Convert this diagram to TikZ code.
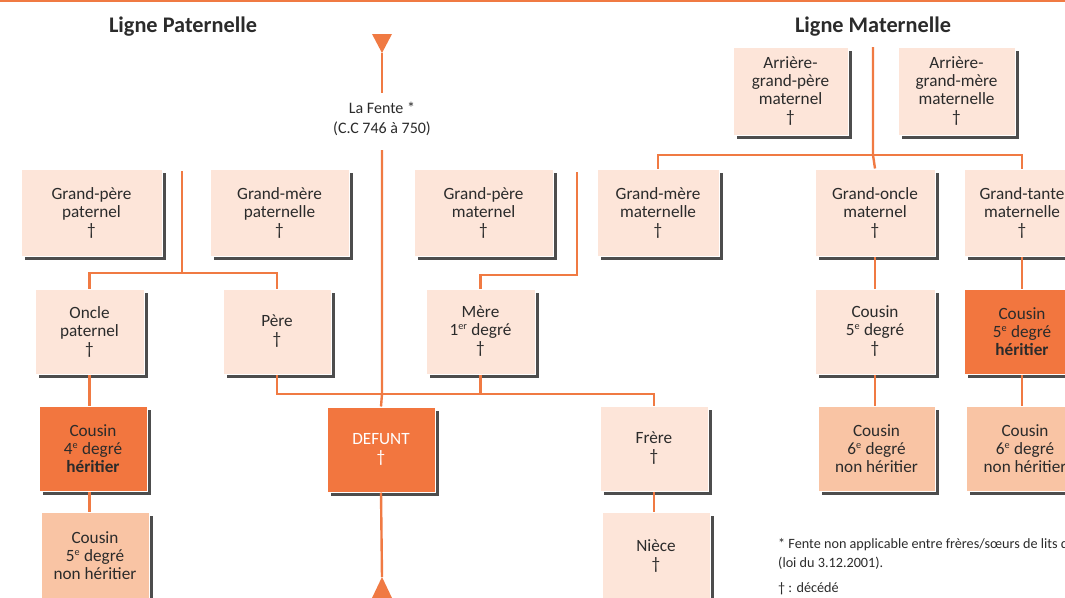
\documentclass[tikz,border=0pt]{standalone}
\usepackage{fontspec}
\setmainfont{Carlito}
\usetikzlibrary{shadows}
\definecolor{peach}{HTML}{FDE5D9}
\definecolor{darkor}{HTML}{F2763F}
\definecolor{medor}{HTML}{F9C4A4}
\definecolor{lineor}{HTML}{F07A43}
\definecolor{shadowc}{HTML}{4D4D4D}
\definecolor{txt}{HTML}{2B2B2B}
\newcommand\supx[1]{\textsuperscript{\scalebox{0.85}{#1}}}
\begin{document}
\begin{tikzpicture}[x=1pt,y=-1pt,
  conn/.style={draw=lineor, line width=2.4pt},
  pb/.style={rectangle, fill=peach, draw=white, line width=1pt, align=center, inner sep=0pt,
    text=txt, font=\fontsize{17.2}{18}\selectfont,
    drop shadow={shadow xshift=4pt, shadow yshift=-4pt, fill=shadowc, opacity=1}},
  dk/.style={pb, fill=darkor},
  md/.style={pb, fill=medor},
  title/.style={font=\fontsize{22.3}{24}\selectfont\bfseries, text=txt, inner sep=0pt},
  note/.style={font=\fontsize{14.2}{16}\selectfont, text=txt, inner sep=0pt, anchor=west},
]
\useasboundingbox (0,0) rectangle (1065,597);
\clip (0,0) rectangle (1065,597);
\draw[draw=lineor, line width=2pt] (0,1) -- (1065,1);

% titles
\node[title] (tp) at (183,27) {Ligne Paternelle};
\node[title] (tm) at (873,27) {Ligne Maternelle};

% fente
\node[font=\fontsize{16}{20}\selectfont, text=txt, align=center, inner sep=0pt] (fente) at (382,119) {La Fente *\\(C.C 746 à 750)};
\coordinate (ftip) at (382,53);
\coordinate (fa) at (382,93);
\coordinate (fb) at (382,150);
\fill[lineor] (372,34) -- (392,34) -- (ftip) -- cycle;
\draw[conn] (ftip) -- (fa);

% boxes
\node[pb, minimum width=141pt, minimum height=87pt] (gpp) at (91.5,212.5) {Grand-père\\paternel\\†};
\node[pb, minimum width=139pt, minimum height=87pt] (gmp) at (279.5,212.5) {Grand-mère\\paternelle\\†};
\node[pb, minimum width=139pt, minimum height=87pt] (gpm) at (483.5,212.5) {Grand-père\\maternel\\†};
\node[pb, minimum width=122pt, minimum height=87pt] (gmm) at (658,212.5) {Grand-mère\\maternelle\\†};
\node[pb, minimum width=120pt, minimum height=87pt] (go) at (875,212.5) {Grand-oncle\\maternel\\†};
\node[pb, minimum width=116pt, minimum height=87pt] (gt) at (1022,212.5) {Grand-tante\\maternelle\\†};
\node[pb, minimum width=115pt, minimum height=88pt] (agp) at (790.5,91) {Arrière-\\grand-père\\maternel\\†};
\node[pb, minimum width=117pt, minimum height=88pt] (agm) at (956.5,91) {Arrière-\\grand-mère\\maternelle\\†};
\node[pb, minimum width=109pt, minimum height=85pt] (oncle) at (89.5,331.5) {Oncle\\paternel\\†};
\node[pb, minimum width=108pt, minimum height=85pt] (pere) at (277,331.5) {Père\\†};
\node[pb, minimum width=109pt, minimum height=85pt] (mere) at (480.5,331.5) {Mère\\1\supx{er} degré\\†};
\node[pb, minimum width=120pt, minimum height=85pt] (c5m) at (875,331.5) {Cousin\\5\supx{e} degré\\†};
\node[dk, minimum width=116pt, minimum height=85pt] (c5h) at (1022,331.5) {Cousin\\5\supx{e} degré\\\textbf{héritier}};
\node[dk, minimum width=108pt, minimum height=85pt] (c4) at (93,448.5) {Cousin\\4\supx{e} degré\\\textbf{héritier}};
\node[dk, minimum width=108pt, minimum height=85pt, text=white] (defunt) at (381,449.5) {DEFUNT\\†};
\node[pb, minimum width=108pt, minimum height=85pt] (frere) at (654,448.5) {Frère\\†};
\node[md, minimum width=117pt, minimum height=85pt] (c6a) at (876.5,448.5) {Cousin\\6\supx{e} degré\\non héritier};
\node[md, minimum width=118pt, minimum height=85pt] (c6b) at (1025,448.5) {Cousin\\6\supx{e} degré\\non héritier};
\node[md, minimum width=108pt, minimum height=88pt] (c5nh) at (95,556) {Cousin\\5\supx{e} degré\\non héritier};
\node[pb, minimum width=108pt, minimum height=88pt] (niece) at (656,556) {Nièce\\†};

% paternal connectors
\coordinate (pt) at (182,171);
\coordinate (pbar) at (182,273);
\draw[conn] (pt) -- (pbar);
\draw[conn] (oncle.north) |- (pbar) -| (pere.north);
\draw[conn] (oncle.south) -- (oncle.south |- c4.north);
\draw[conn] (c4.south -| oncle.south) -- (c5nh.north -| oncle.south);

% maternal grandparents -> mere
\coordinate (mt) at (577,172);
\coordinate (mbar) at (577,275);
\draw[conn] (mt) -- (mbar) -| (mere.north);

% siblings bar
\coordinate (sbar) at (382,394);
\draw[conn] (fb) -- (sbar) -- (defunt.north);
\draw[conn] (pere.south) |- (sbar) -| (frere.north);
\draw[conn] (mere.south) -- (mere.south |- sbar);
\draw[conn] (frere.south) -- (frere.south |- niece.north);

% bottom triangle
\coordinate (btip) at (382,577);
\draw[conn] (defunt.south) -- (btip);
\fill[lineor] (btip) -- (392,598) -- (372,598) -- cycle;

% maternal line
\coordinate (mtop) at (873,47);
\coordinate (mbar2) at (873,155);
\draw[conn] (mtop) -- (mbar2) -- (go.north);
\draw[conn] (gmm.north) |- (mbar2) -| (gt.north);
\draw[conn] (go.south) -- (c5m.north);
\draw[conn] (c5m.south) -- (c5m.south |- c6a.north);
\draw[conn] (gt.south) -- (c5h.north);
\draw[conn] (c5h.south) -- (c5h.south |- c6b.north);

% footnotes
\node[note] (n1) at (778,545) {* Fente non applicable entre frères/sœurs de lits différents};
\node[note] (n2) at (778,563) {(loi du 3.12.2001).};
\node[note] (n3) at (778,589) {† : décédé};
\end{tikzpicture}
\end{document}
